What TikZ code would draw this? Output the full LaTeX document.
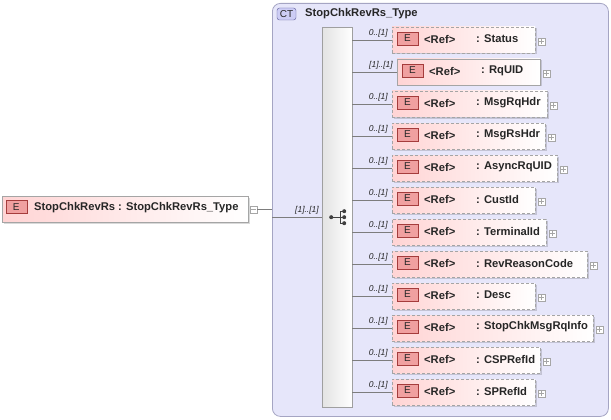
\documentclass[tikz,border=0pt]{standalone}
\usepackage{fontspec}
\setmainfont{Liberation Sans}
\usetikzlibrary{shadows,calc}
\definecolor{ctfill}{RGB}{230,230,250}
\definecolor{ctborder}{RGB}{165,165,195}
\definecolor{tagfill}{RGB}{205,205,245}
\definecolor{tagborder}{RGB}{90,90,150}
\definecolor{elpink}{RGB}{255,212,212}
\definecolor{elborder}{RGB}{165,165,165}
\definecolor{efill}{RGB}{240,160,160}
\definecolor{eborder}{RGB}{165,60,60}
\definecolor{lineg}{RGB}{125,125,125}
\tikzset{
 ctbox/.style={draw=ctborder, fill=ctfill, rounded corners=8pt, line width=0.8pt, inner sep=0pt, anchor=north west},
 cttag/.style={draw=tagborder, fill=tagfill, rounded corners=2.5pt, minimum width=19pt, minimum height=12pt, inner sep=0pt, font=\fontsize{10}{11}\selectfont, text=black!85},
 seqbar/.style={draw=gray!75, left color=gray!22, right color=white, inner sep=0pt, anchor=north west, drop shadow={shadow xshift=1.2pt, shadow yshift=-1.2pt, fill=black, opacity=0.15}},
 elbase/.style={draw=elborder, left color=elpink, right color=white, minimum height=26pt, inner sep=0pt, anchor=west, drop shadow={shadow xshift=1.5pt, shadow yshift=-1.5pt, fill=black, opacity=0.15}},
 reqel/.style={elbase},
 optel/.style={elbase, dash pattern=on 3pt off 2pt},
 etag/.style={draw=eborder, fill=efill, minimum width=21pt, minimum height=13pt, inner sep=0pt, font=\fontsize{10}{11}\selectfont, text=black!85},
 lbl/.style={anchor=west, inner sep=0pt, font=\fontsize{11.2}{12}\selectfont\bfseries, text=black!85},
 card/.style={anchor=south east, inner sep=0pt, font=\fontsize{8.5}{9}\selectfont\itshape, text=black!85},
 pm/.style={draw=gray!70, fill=white, minimum size=7pt, inner sep=0pt},
 conn/.style={draw=lineg, line width=0.6pt},
 icon/.style={black!75, line width=1pt},
}
\begin{document}
\begin{tikzpicture}[x=1pt,y=-1pt]
\useasboundingbox (0,0) rectangle (611,420);
% complex type container
\node[ctbox, minimum width=336pt, minimum height=413pt] (ct) at (272,3) {};
\node[cttag] (tag) at (286.5,14) {CT};
\node[lbl] (title) at (305,14) {StopChkRevRs\_Type};
% sequence bar
\node[seqbar, minimum width=30pt, minimum height=380pt] (bar) at (322,27) {};
\fill[black!75] ($(bar.center)+(-6,0)$) circle (2);
\draw[icon] ($(bar.center)+(-6,0)$) -- ($(bar.center)+(3,0)$);
\draw[icon] ($(bar.center)+(3,-6)$) -- ($(bar.center)+(3,6)$);
\foreach \k in {-6,0,6}{
  \draw[icon] ($(bar.center)+(3,\k)$) -- ($(bar.center)+(6,\k)$);
  \fill[black!75] ($(bar.center)+(7,\k)$) circle (2);
}
% main element
\node[reqel, minimum width=246pt] (main) at (2,209) {};
\node[etag] (me) at (16.2,207) {E};
\node[lbl] (mt) at (34,208) {StopChkRevRs : StopChkRevRs\_Type};
\node[pm] (minus) at (253.5,209.5) {};
\draw[gray!70] ($(minus.center)+(-2.3,0)$) -- ($(minus.center)+(2.3,0)$);
\draw[conn] (minus.east) -- (minus.east -| ct.west);
\draw[conn] (bar.west -| ct.west) -- (bar.west);
\node[card] (mc) at (319,214) {[1]..[1]};
% child elements
\foreach \i/\nm/\w/\rq in {0/Status/143/0, 1/RqUID/143/1, 2/MsgRqHdr/155/0, 3/MsgRsHdr/153/0, 4/AsyncRqUID/165/0, 5/CustId/143/0, 6/TerminalId/154/0, 7/RevReasonCode/195/0, 8/Desc/143/0, 9/StopChkMsgRqInfo/201/0, 10/CSPRefId/148/0, 11/SPRefId/143/0}{
  \pgfmathsetmacro\yy{40+32*\i}
  \ifnum\rq=1 \def\xx{397}\def\st{reqel}\def\cd{[1]..[1]}\else \def\xx{392}\def\st{optel}\def\cd{0..[1]}\fi
  \node[\st, minimum width=\w pt] (r\i) at (\xx,\yy) {};
  \node[etag] (e\i) at ($(r\i.west)+(15.5,-1.5)$) {E};
  \node[lbl] (ref\i) at ($(r\i.west)+(32,-1)$) {<Ref>};
  \node[lbl] (nm\i) at ($(r\i.west)+(84,-1)$) {: \nm};
  \node[pm] (p\i) at ($(r\i.east)+(6,1.5)$) {};
  \draw[gray!70] ($(p\i.center)+(-2.3,0)$) -- ($(p\i.center)+(2.3,0)$);
  \draw[gray!70] ($(p\i.center)+(0,-2.3)$) -- ($(p\i.center)+(0,2.3)$);
  \draw[conn] (bar.east |- r\i.west) -- (r\i.west);
  \node[card] (c\i) at ($(r\i.west)+(-4,-3)$) {\cd};
}
\end{tikzpicture}
\end{document}
